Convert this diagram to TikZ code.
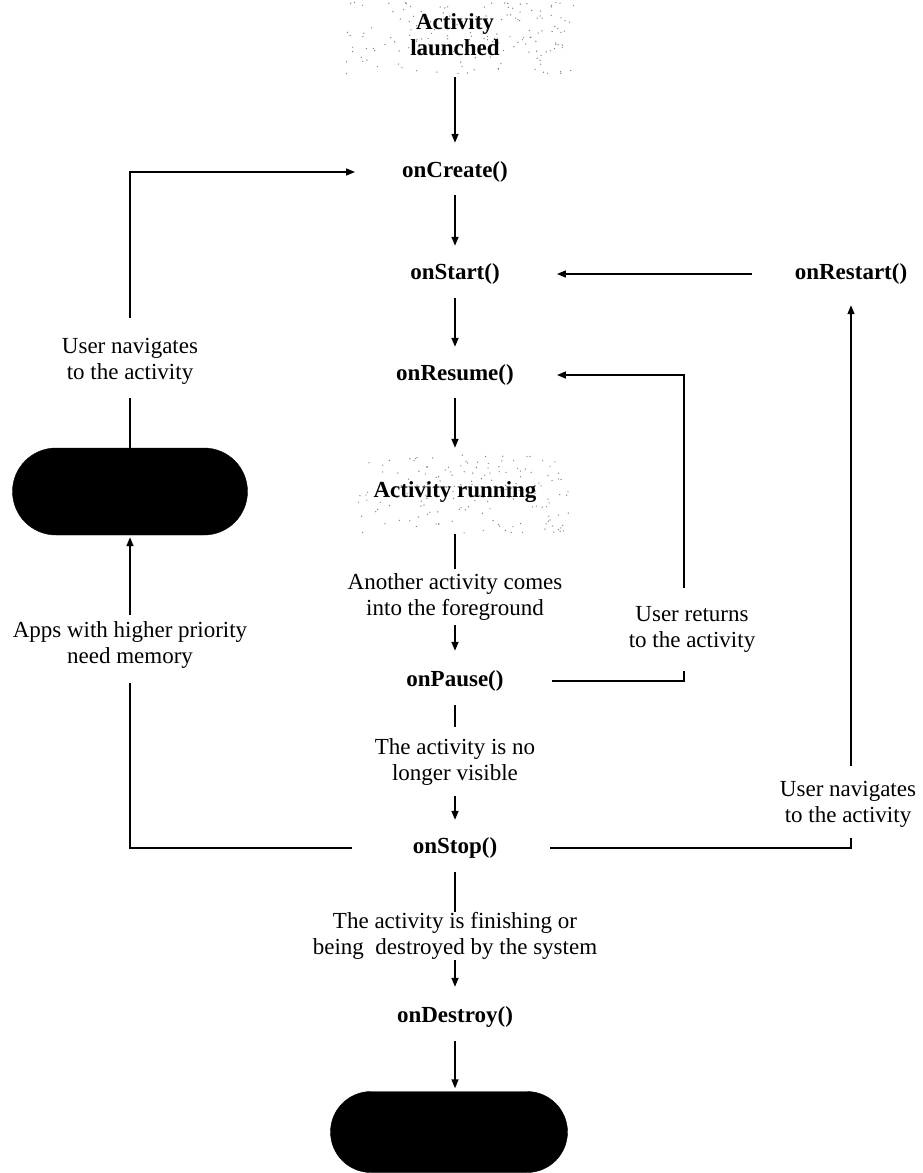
\documentclass[tikz,border=0pt]{standalone}
\usepackage{fontspec}
\setmainfont{Liberation Serif}
\usetikzlibrary{arrows.meta,shapes.misc}
\begin{document}
\begin{tikzpicture}[x=1pt,y=-1pt,
  every node/.style={font=\fontsize{23}{26}\selectfont, inner sep=0pt},
  state/.style={font=\fontsize{23}{26}\selectfont\bfseries, text height=16pt, text depth=5pt},
  title/.style={font=\fontsize{23}{26}\selectfont\bfseries, align=center},
  lbl/.style={align=center},
  pill/.style={rounded rectangle, fill=black, draw=black},
  wire/.style={line width=1.5pt},
  arr/.style={wire, -{Triangle[length=9pt,width=7pt]}},
  speck/.style={fill=black!50},
]
\useasboundingbox (0,0) rectangle (922,1173);

% speckled backgrounds behind the two activity states
\pgfmathsetseed{11}
\foreach \i in {1,...,170}{\fill[speck] ({340+235*rnd^0.7},{2+72*rnd}) circle (0.7);}
\foreach \i in {1,...,170}{\fill[speck] ({355+215*rnd^0.8},{455+78*rnd}) circle (0.7);}

% lifecycle states
\node[title] (launched) at (455,35) {Activity\\launched};
\node[state] (create)  at (455,172) {onCreate()};
\node[state] (start)   at (455,274) {onStart()};
\node[state] (resume)  at (455,375) {onResume()};
\node[state] (running) at (455,492) {Activity running};
\node[lbl]   (fg)      at (455,597) {Another activity comes\\into the foreground};
\node[state] (pause)   at (455,681) {onPause()};
\node[lbl]   (novis)   at (455,762) {The activity is no\\longer visible};
\node[state] (stop)    at (455,848) {onStop()};
\node[lbl]   (fin)     at (455,936) {The activity is finishing or\\being~ destroyed by the system};
\node[state] (destroy) at (455,1017) {onDestroy()};
\node[pill, minimum width=237pt, minimum height=81pt] (shutdown) at (449,1132) {};

\node[pill, minimum width=235pt, minimum height=87pt] (killed) at (130,491.5) {};
\node[lbl] (navL) at (130,361) {User navigates\\to the activity};
\node[lbl] (mem)  at (130,645) {Apps with higher priority\\need memory};

\node[state] (restart) at (851,274) {onRestart()};
\node[lbl] (ret)  at (692,629) {User returns\\to the activity};
\node[lbl] (navR) at (848,804) {User navigates\\to the activity};

% main column
\draw[arr, shorten <=21pt, shorten >=18.5pt] (launched) -- (create);
\draw[arr, shorten <=12.5pt, shorten >=17.5pt] (create) -- (start);
\draw[arr, shorten <=13.5pt, shorten >=17.5pt] (start) -- (resume);
\draw[arr, shorten <=12.5pt, shorten >=33.5pt] (resume) -- (running);
\draw[wire, shorten <=31.5pt, shorten >=4.6pt] (running) -- (fg);
\draw[arr, shorten <=4.6pt, shorten >=19.5pt] (fg) -- (pause);
\draw[wire, shorten <=13.5pt, shorten >=11.6pt] (pause) -- (novis);
\draw[arr, shorten <=10.6pt, shorten >=17.5pt] (novis) -- (stop);
\draw[wire, shorten <=13.5pt] (stop) -- (fin);
\draw[arr, shorten <=0.6pt, shorten >=19.5pt] (fin) -- (destroy);
\draw[arr, shorten <=13.5pt, shorten >=3pt] (destroy) -- (destroy |- shutdown.north);

% left loop: process killed and recreated
\draw[arr, shorten <=20pt, shorten >=47pt] (navL) |- (create);
\draw[wire, shorten >=14pt] (killed) -- (navL);
\draw[arr, shorten <=6.7pt, shorten >=2pt] (mem) -- (killed);
\draw[wire, shorten <=61pt, shorten >=14.7pt] (stop) -| (mem);

% right loops: resume and restart
\coordinate (pr) at (684,681);
\coordinate (prTick) at (684,671);
\coordinate (retTop) at (684,588);
\coordinate (rr) at (684,375);
\draw[wire, shorten <=48pt] (pause) -- (pr) -- (prTick);
\draw[arr, shorten >=43pt] (retTop) -- (rr) -- (resume);

\coordinate (sr) at (851,848);
\coordinate (srTick) at (851,838);
\coordinate (srTop) at (851,766);
\draw[wire, shorten <=53pt] (stop) -- (sr) -- (srTick);
\draw[arr, shorten >=20.5pt] (srTop) -- (restart);
\draw[arr, shorten <=43pt, shorten >=57pt] (restart) -- (start);
\end{tikzpicture}
\end{document}
